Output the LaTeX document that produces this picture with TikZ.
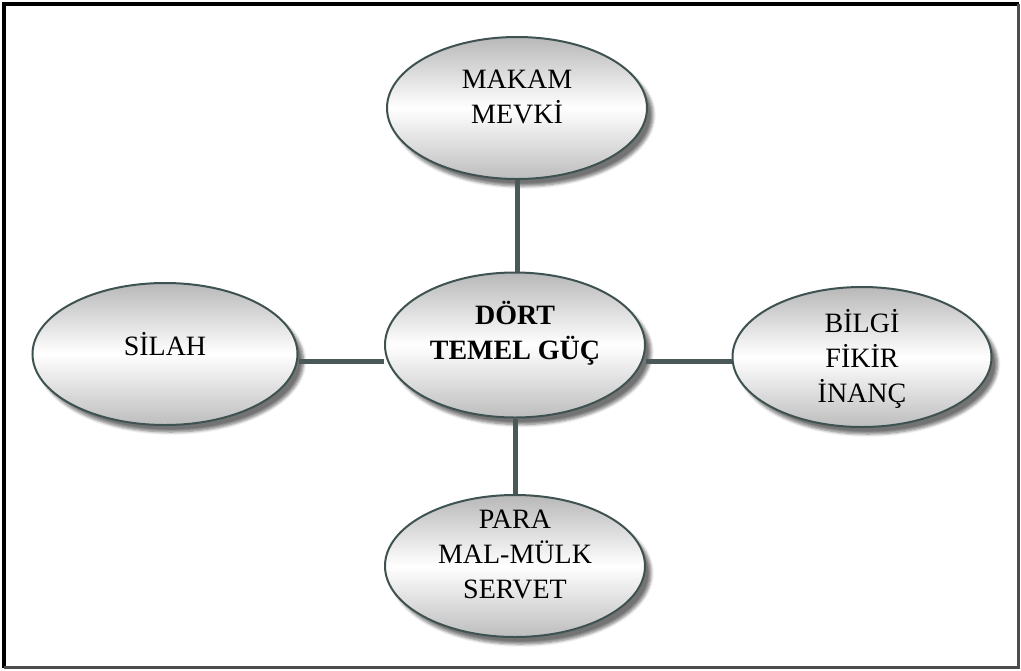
\documentclass[tikz,border=0pt]{standalone}
\usepackage{fontspec}
\setmainfont{Liberation Serif}
\usetikzlibrary{shapes.geometric,shadows.blur}
\definecolor{outl}{HTML}{3F5252}
\definecolor{conn}{HTML}{4A5858}
\definecolor{topg}{HTML}{B8B8B8}
\definecolor{botg}{HTML}{BDBDBD}
\tikzset{
  bubble/.style={ellipse, draw=outl, line width=2pt, inner sep=0pt,
    minimum width=260pt, minimum height=142pt,
    top color=topg, bottom color=botg, middle color=white,
    blur shadow={shadow xshift=6pt, shadow yshift=-7pt, shadow blur radius=3pt,
      shadow blur steps=6, shadow opacity=55}},
  lbl/.style={align=center, font=\fontsize{28}{35}\selectfont, inner sep=0pt},
  link/.style={draw=conn, line width=5pt}
}
\begin{document}
\begin{tikzpicture}[x=1pt,y=-1pt]
\useasboundingbox (0,0) rectangle (1021,670);
% frame
\coordinate (ftl) at (4,4);
\coordinate (ftr) at (1018.5,4);
\coordinate (fbr) at (1018.5,667.5);
\coordinate (fbl) at (4,667.5);
\draw[line width=3.5pt, black] (fbl) -- (ftl) -- (ftr);
\draw[line width=3pt, black!70] (ftr) -- (fbr) -- (fbl);
% nodes
\node[bubble] (top) at (517,108) {};
\node[bubble, minimum height=145pt] (center) at (515,345) {};
\node[bubble, minimum width=265pt] (left) at (165,354) {};
\node[bubble, minimum width=259pt, minimum height=140pt] (right) at (862,357) {};
\node[bubble] (bottom) at (515,566) {};
% texts
\node[lbl] (ttop) at (517,97) {MAKAM\\MEVKİ};
\node[lbl, font=\fontsize{28}{35}\selectfont\bfseries] (tcenter) at (515,333) {DÖRT\\TEMEL GÜÇ};
\node[lbl] (tleft) at (165,344) {SİLAH};
\node[lbl] (tright) at (862,359) {BİLGİ\\FİKİR\\İNANÇ};
\node[lbl] (tbottom) at (515,554) {PARA\\MAL-MÜLK\\SERVET};
% connectors
\coordinate (hy) at (0,361);
\draw[link] (top.south) -- (top.south |- center.north);
\draw[link] (center.south) -- (center.south |- bottom.north);
\draw[link] (left.east |- hy) -- (center.west |- hy);
\draw[link] (center.east |- hy) -- (right.west |- hy);
\end{tikzpicture}
\end{document}
